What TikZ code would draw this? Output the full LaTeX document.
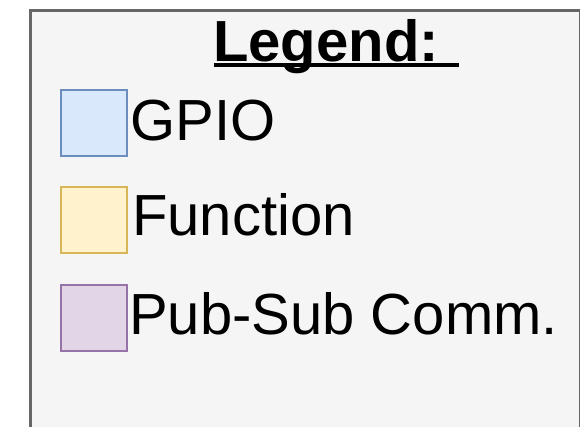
\documentclass[tikz,border=0pt]{standalone}
\usepackage{fontspec}
\setmainfont{Liberation Sans}
\definecolor{boxfill}{HTML}{F5F5F5}
\definecolor{boxdraw}{HTML}{666666}
\definecolor{gpiofill}{HTML}{DAE8FC}
\definecolor{gpiodraw}{HTML}{6C8EBF}
\definecolor{funcfill}{HTML}{FFF2CC}
\definecolor{funcdraw}{HTML}{D6B656}
\definecolor{psfill}{HTML}{E1D5E7}
\definecolor{psdraw}{HTML}{9673A6}
\tikzset{
  legendsq/.style={draw, line width=2pt, minimum width=66pt, minimum height=66pt, inner sep=0pt, anchor=north west},
  legendtxt/.style={anchor=base west, inner sep=0pt, font=\fontsize{58}{70}\selectfont},
}
\begin{document}
\begin{tikzpicture}[x=1pt,y=-1pt]
\useasboundingbox (0,0) rectangle (580,426);
\clip (0,0) rectangle (580,426);
\node[draw=boxdraw, fill=boxfill, line width=3pt, anchor=north west, minimum width=550pt, minimum height=460pt, inner sep=0pt] (box) at (28.5,8.7) {};
\node[legendtxt, font=\fontsize{58}{70}\selectfont\bfseries] (title) at (213,61) {Legend:};
\draw[line width=3.5pt] (title.base west) ++(1,4) coordinate (ul1) -- ++(245,0) coordinate (ul2);
\node[legendsq, draw=gpiodraw, fill=gpiofill] (sq1) at (60,89) {};
\node[legendtxt] (t1) at (130.5,140) {GPIO};
\node[legendsq, draw=funcdraw, fill=funcfill] (sq2) at (60,186) {};
\node[legendtxt] (t2) at (132,235.7) {Function};
\node[legendsq, draw=psdraw, fill=psfill] (sq3) at (60,283.5) {};
\node[legendtxt] (t3) at (129,334.3) {Pub-Sub Comm.};
\end{tikzpicture}
\end{document}
